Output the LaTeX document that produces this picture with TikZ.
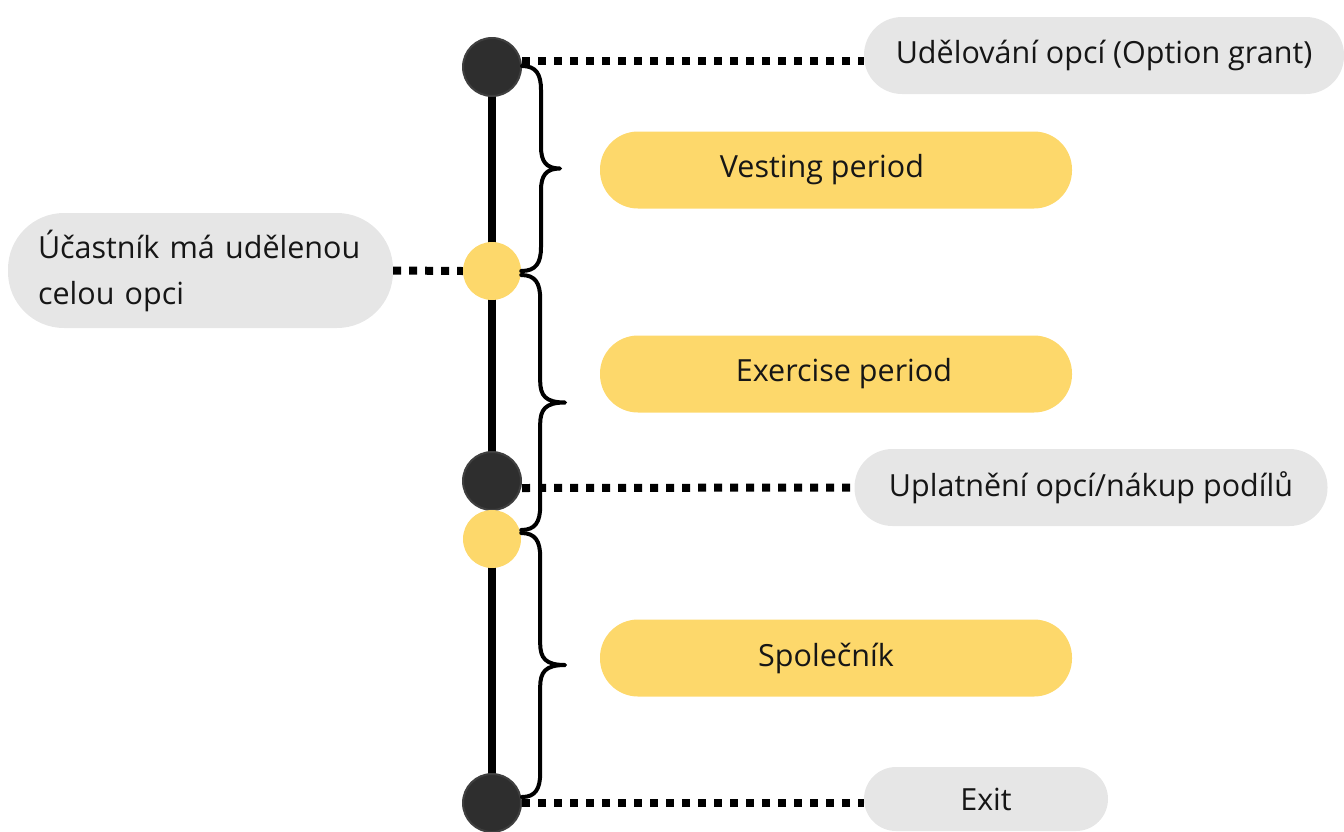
\documentclass[tikz,border=0pt]{standalone}
\usepackage{fontspec}
\setmainfont{Open Sans}[Ligatures=NoCommon]
\usetikzlibrary{calc}
\definecolor{pillyellow}{HTML}{FDD86B}
\definecolor{pillgrey}{HTML}{E6E6E6}
\definecolor{dotdark}{HTML}{2E2E2E}
\definecolor{dotring}{HTML}{3F3F3F}
\definecolor{ink}{HTML}{161616}
\tikzset{
  pillbase/.style={rectangle, rounded corners=38pt, minimum height=77pt,
    inner sep=0pt, font=\fontsize{30.5}{46}\selectfont, text=ink},
  phase/.style={pillbase, fill=pillyellow, minimum width=472pt},
  event/.style={pillbase, fill=pillgrey},
  darkdot/.style={circle, minimum size=58pt, inner sep=0pt, fill=dotdark, draw=dotring, line width=2pt},
  yellowdot/.style={circle, minimum size=58pt, inner sep=0pt, fill=pillyellow},
  spine/.style={line width=8pt, black},
  dotline/.style={line width=8pt, black, dash pattern=on 8pt off 8pt},
  bracestyle/.style={line width=4pt, black, line cap=round, line join=round},
}
% curly brace on the right of the spine, from #1 down to #2, tip #3 to the right
\newcommand\spanbrace[3]{%
  \draw[bracestyle] let \p1=(#1), \p2=(#2), \p3=($(#1)!.5!(#2)$) in
    (\p1) .. controls (\x1+14pt,\y1) and (\x1+19pt,\y1-8pt) .. (\x1+19pt,\y1-24pt)
    -- (\x1+19pt,\y3+22pt)
    .. controls (\x1+19pt,\y3+7pt) and (\x1+24pt,\y3) .. (\x1+#3,\y3)
    .. controls (\x1+24pt,\y3) and (\x1+19pt,\y3-7pt) .. (\x1+19pt,\y3-22pt)
    -- (\x1+19pt,\y2+24pt)
    .. controls (\x1+19pt,\y2+8pt) and (\x1+14pt,\y2) .. (\p2);}
\begin{document}
\begin{tikzpicture}[x=1pt,y=-1pt]
\useasboundingbox (0,0) rectangle (1344,831);

% milestones on the timeline
\coordinate (top) at (492,67);
\coordinate (bottom) at (492,803);
\draw[spine] (top) -- (bottom);
\node[darkdot]   (grant)   at (492,67)  {};
\node[yellowdot] (vested)  at (492,271) {};
\node[darkdot]   (exer)    at (492,481) {};
\node[yellowdot] (partner) at (492,539) {};
\node[darkdot]   (exitdot) at (492,803) {};

% periods
\node[phase] (vesting)  at (836,170) {\hspace*{-28pt}Vesting period};
\node[phase] (exercise) at (836,374) {\hspace*{16pt}Exercise period};
\node[phase] (spol)     at (836,658) {\hspace*{-20pt}Společník};

% events
\node[event, minimum width=480pt] (egrant) at (1104,55.5) {Udělování opcí (Option grant)};
\node[event, minimum width=473pt] (eexer)  at (1091,487.5) {Uplatnění opcí/nákup podílů};
\node[event, minimum width=244pt, minimum height=64pt, rounded corners=32pt] (eexit) at (986,799) {Exit};
\node[event, minimum width=385pt, minimum height=115pt, rounded corners=56pt,
      text width=325pt, align=left] (evest) at (200.5,270.5)
      {Účastník má udělenou\\celou opci};

% dotted leaders
\draw[dotline] ([yshift=6pt]grant.east) -- ([yshift=-5.5pt]egrant.west);
\draw[dotline] ([yshift=-7pt]exer.east) -- (eexer.west);
\draw[dotline] (exitdot.east) -- (exitdot.east -| eexit.west);
\draw[dotline] (evest.east) -- (vested.west);

% braces spanning each period
\spanbrace{[yshift=1pt]grant.east}{vested.east}{38pt}
\spanbrace{[yshift=-4pt]vested.east}{[yshift=9pt]partner.east}{44pt}
\spanbrace{[yshift=6pt]partner.east}{[yshift=6pt]exitdot.east}{44pt}
\end{tikzpicture}
\end{document}
